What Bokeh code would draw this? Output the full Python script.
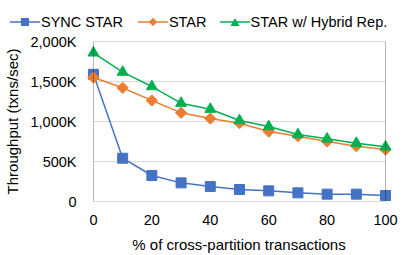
import math
from bokeh.plotting import figure
from bokeh.layouts import column
from bokeh.models import (Range1d, LinearAxis, FixedTicker, BoxAnnotation,
                          ColumnDataSource, Div)
from bokeh.embed import file_html
from bokeh.resources import INLINE

x_pct = [0, 10, 20, 30, 40, 50, 60, 70, 80, 90, 100]
sync_star = [1590, 541, 325, 233, 187, 150, 133, 108, 92, 92, 75]
star = [1550, 1421, 1262, 1108, 1037, 979, 875, 817, 750, 692, 650]
star_hybrid = [1858, 1617, 1437, 1229, 1154, 1012, 937, 837, 783, 729, 683]
series_names = ["SYNC STAR", "STAR", "STAR w/ Hybrid Rep."]

y_ticks = [0, 500, 1000, 1500, 2000]
y_tick_labels = ["0", "500K", "1,000K", "1,500K", "2,000K"]
x_ticks = [0, 20, 40, 60, 80, 100]
grid_levels = [500, 1000, 1500]

FONT = "Liberation Sans"
blue, orange, green = "#4472C4", "#ED7D31", "#00B050"
colors = [blue, orange, green]

p = figure(width=407, height=225, output_backend="svg", toolbar_location=None,
           x_range=Range1d(-2.38, 102.04), y_range=Range1d(0, 2000),
           x_axis_type=None, y_axis_type=None,
           min_border_left=84, min_border_right=16, min_border_top=11, min_border_bottom=54)
p.margin = (0, 0, 0, 0)
p.outline_line_color = None
p.xgrid.visible = False
p.ygrid.visible = False

p.segment(x0=[x_pct[0]] * len(grid_levels), x1=[x_pct[-1]] * len(grid_levels),
          y0=grid_levels, y1=grid_levels, line_color="#d9d9d9", line_width=1)

p.add_layout(BoxAnnotation(left=x_pct[0], right=x_pct[-1], bottom=y_ticks[0], top=y_ticks[-1],
                           fill_alpha=0, line_color="black", line_width=1))

xaxis = LinearAxis(ticker=FixedTicker(ticks=x_ticks),
                   axis_label="% of cross-partition transactions")
yaxis = LinearAxis(ticker=FixedTicker(ticks=y_ticks),
                   axis_label="Throughput (txns/sec)",
                   major_label_overrides={t: l for t, l in zip(y_ticks, y_tick_labels)})
for ax in (xaxis, yaxis):
    ax.major_tick_line_color = None
    ax.minor_tick_line_color = None
    ax.axis_line_color = None
    ax.major_label_text_font = FONT
    ax.major_label_text_font_size = "14.5px"
    ax.major_label_text_color = "black"
    ax.axis_label_text_font = FONT
    ax.axis_label_text_font_size = "15px"
    ax.axis_label_text_font_style = "normal"
    ax.axis_label_text_color = "black"
xaxis.major_label_standoff = 7
xaxis.axis_label_standoff = 8
yaxis.major_label_standoff = 4
yaxis.axis_label_standoff = 7
p.add_layout(xaxis, "below")
p.add_layout(yaxis, "left")

src = ColumnDataSource(dict(x=x_pct, a=sync_star, b=star, c=star_hybrid))
p.line("x", "a", source=src, line_color=blue, line_width=1.5)
p.scatter("x", "a", source=src, marker="square", size=10, fill_color=blue, line_color=blue)
p.line("x", "b", source=src, line_color=orange, line_width=1.5)
p.scatter("x", "b", source=src, marker="square", angle=math.pi / 4, size=8,
          fill_color=orange, line_color=orange)
p.line("x", "c", source=src, line_color=green, line_width=1.5)
p.scatter("x", "c", source=src, marker="triangle", size=11, fill_color=green, line_color=green)

# legend strip (HTML) above the chart
glyph_svgs = [
    '<rect x="11" y="3" width="8" height="8" fill="{c}"/>',
    '<rect x="12" y="4" width="6" height="6" fill="{c}" transform="rotate(45 15 7)"/>',
    '<polygon points="10.5,11 19.5,11 15,3" fill="{c}"/>',
]
gaps = [15, 13, 0]
parts = []
for name, colr, g, gap in zip(series_names, colors, glyph_svgs, gaps):
    svg = ('<svg width="30" height="14" style="display:block;flex:none">'
           f'<line x1="0" y1="7" x2="30" y2="7" stroke="{colr}" stroke-width="1.5"/>'
           + g.format(c=colr) + '</svg>')
    parts.append(f'{svg}<span style="margin-left:1px;margin-right:{gap}px;white-space:nowrap">{name}</span>')
html = ('<div style="display:flex;align-items:center;height:30px;padding-left:10px;padding-top:13px;'
        'box-sizing:border-box;font-family:\'Liberation Sans\',Arial,sans-serif;font-size:14.5px;'
        'color:#000;line-height:14px">' + "".join(parts) + '</div>')
legend_div = Div(text=html, width=407, height=30, margin=(0, 0, 0, 0))

layout = column(legend_div, p, spacing=0)
open("out.html", "w").write(file_html(layout, INLINE))
